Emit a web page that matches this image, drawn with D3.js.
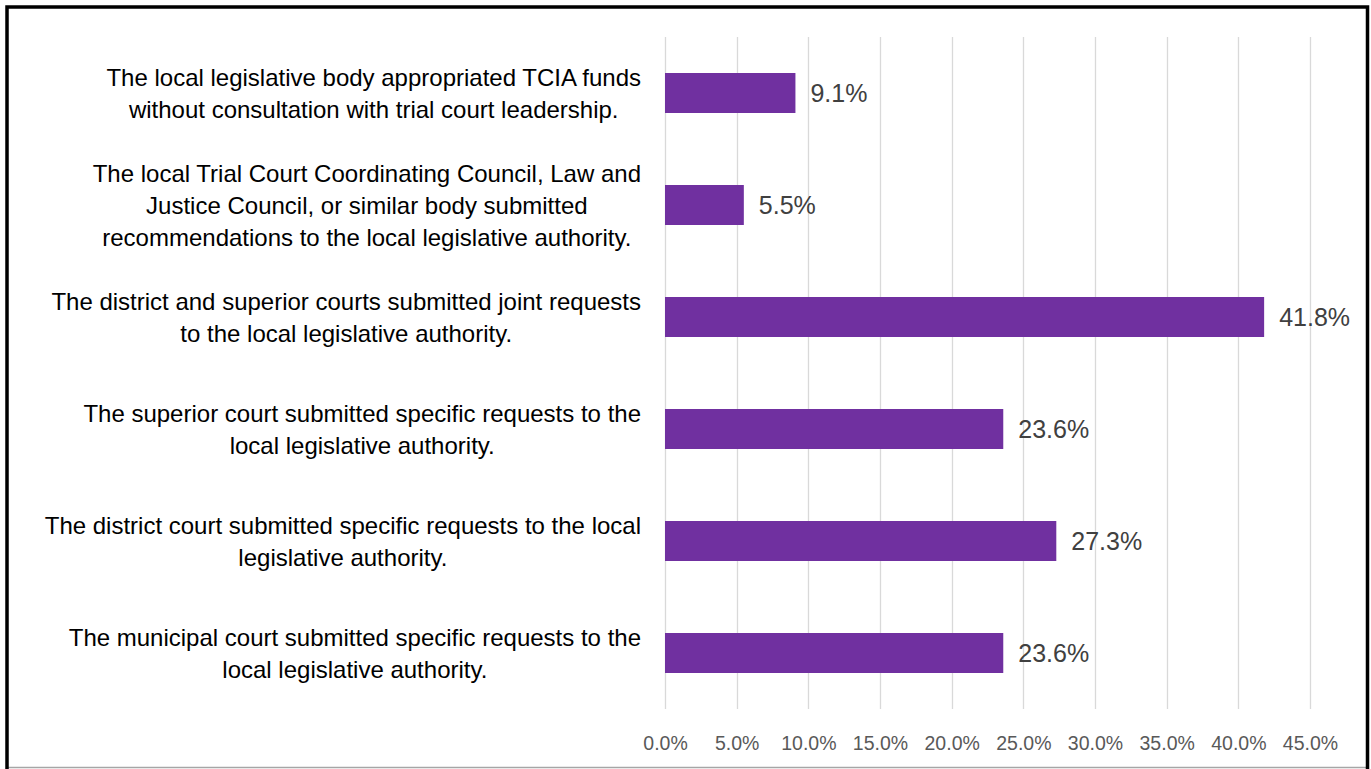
<!DOCTYPE html>
<html><head><meta charset="utf-8">
<script src="https://cdn.jsdelivr.net/npm/d3@7"></script>
<style>html,body{margin:0;padding:0;background:#fff;}svg{display:block;}</style>
</head><body>
<svg id="c" width="1371" height="769"></svg>
<script>
const categories = [
  ["The local legislative body appropriated TCIA funds", "without consultation with trial court leadership."],
  ["The local Trial Court Coordinating Council, Law and", "Justice Council, or similar body submitted", "recommendations to the local legislative authority."],
  ["The district and superior courts submitted joint requests", "to the local legislative authority."],
  ["The superior court submitted specific requests to the", "local legislative authority."],
  ["The district court submitted specific requests to the local", "legislative authority."],
  ["The municipal court submitted specific requests to the", "local legislative authority."]
];
const values = [9.1, 5.5, 41.8, 23.6, 27.3, 23.6];
const ticks = [0, 5, 10, 15, 20, 25, 30, 35, 40, 45];

const svg = d3.select("#c");
const font = "'Liberation Sans', Arial, sans-serif";
const x = d3.scaleLinear().domain([0, 45]).range([665, 1310]);
const y = d3.scaleBand().domain(d3.range(categories.length)).range([37, 709]).paddingInner(0.643).paddingOuter(0.3215);

// frame
svg.append("rect").attr("x", 0).attr("y", 0).attr("width", 1371).attr("height", 769).attr("fill", "#fff");
svg.append("line").attr("x1", 7).attr("x2", 1368).attr("y1", 767.5).attr("y2", 767.5).attr("stroke", "#a6a6a6").attr("stroke-width", 1.5);
svg.append("path").attr("d", "M7,769 V7 H1367.5 V769").attr("fill", "none").attr("stroke", "#000").attr("stroke-width", 3.5);

// gridlines
svg.append("g").selectAll("line").data(ticks).join("line")
  .attr("x1", d => Math.round(x(d)) + 0.5).attr("x2", d => Math.round(x(d)) + 0.5)
  .attr("y1", 37).attr("y2", 709)
  .attr("stroke", "#d9d9d9").attr("stroke-width", 1.3);

// x axis tick labels
const xa = svg.append("g").attr("transform", "translate(0,743)")
  .call(d3.axisBottom(x).tickValues(ticks).tickSize(0).tickPadding(0).tickFormat(d => d.toFixed(1) + "%"));
xa.select(".domain").remove();
xa.selectAll("text").attr("fill", "#595959").attr("font-family", font).attr("font-size", "19.5px").attr("dy", "0.35em").attr("y", 0);

// bars
svg.append("g").selectAll("rect").data(values).join("rect")
  .attr("x", x(0)).attr("y", (d, i) => y(i))
  .attr("width", d => x(d) - x(0)).attr("height", y.bandwidth())
  .attr("fill", "#7030A0");

// value labels
svg.append("g").selectAll("text").data(values).join("text")
  .attr("x", d => x(d) + 15).attr("y", (d, i) => y(i) + y.bandwidth() / 2)
  .attr("dy", "0.36em").attr("fill", "#404040")
  .attr("font-family", font).attr("font-size", "25px")
  .text(d => d.toFixed(1) + "%");

// category labels
const lh = 32;
categories.forEach((lines, i) => {
  const cy = y(i) + y.bandwidth() / 2;
  const g = svg.append("g");
  const texts = lines.map((t, j) => g.append("text")
    .attr("y", cy + (j - (lines.length - 1) / 2) * lh)
    .attr("dy", "0.36em").attr("text-anchor", "middle")
    .attr("fill", "#000").attr("font-family", font).attr("font-size", "24px")
    .text(t));
  const w = d3.max(texts, t => t.node().getComputedTextLength());
  texts.forEach(t => t.attr("x", 641 - w / 2));
});
</script>
</body></html>
